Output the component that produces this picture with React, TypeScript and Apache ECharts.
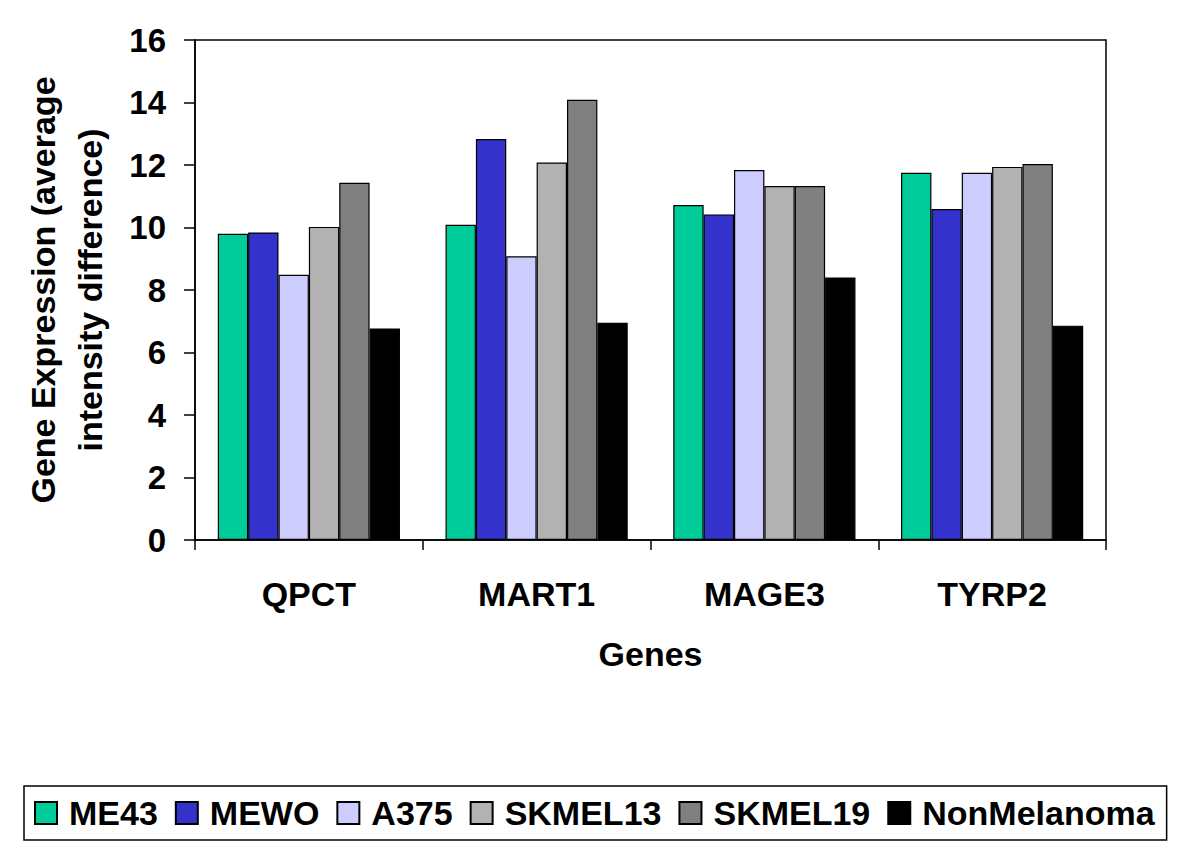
import React, { useEffect, useRef } from "react";
import * as echarts from "echarts";

const genes = ["QPCT", "MART1", "MAGE3", "TYRP2"];
const seriesNames = ["ME43", "MEWO", "A375", "SKMEL13", "SKMEL19", "NonMelanoma"];
const seriesColors = ["#00CC99", "#3333CC", "#CCCCFF", "#B2B2B2", "#808080", "#000000"];

const me43 = [9.8, 10.09, 10.72, 11.75];
const mewo = [9.84, 12.83, 10.42, 10.59];
const a375 = [8.49, 9.08, 11.84, 11.75];
const skmel13 = [10.02, 12.08, 11.33, 11.94];
const skmel19 = [11.43, 14.09, 11.33, 12.03];
const nonMelanoma = [6.77, 6.95, 8.4, 6.86];

const seriesValues = [me43, mewo, a375, skmel13, skmel19, nonMelanoma];

const yTicks = [0, 2, 4, 6, 8, 10, 12, 14, 16];

const FONT = "'Liberation Sans', Arial, Helvetica, sans-serif";

export default function App() {
  const ref = useRef<HTMLDivElement>(null);

  useEffect(() => {
    if (!ref.current) return;
    const chart = echarts.init(ref.current, null, { renderer: "svg" });
    chart.setOption({
      animation: false,
      backgroundColor: "#ffffff",
      textStyle: { fontFamily: FONT },
      grid: {
        left: 195,
        right: 94,
        top: 40,
        bottom: 327,
        show: true,
        borderColor: "#000",
        borderWidth: 1.5,
        backgroundColor: "transparent",
      },
      legend: {
        data: seriesNames,
        left: 24,
        top: 786,
        orient: "horizontal",
        icon: "rect",
        itemWidth: 22,
        itemHeight: 22,
        itemGap: 17,
        padding: [10, 12, 10, 10],
        borderColor: "#000",
        borderWidth: 1.5,
        textStyle: {
          fontFamily: FONT,
          fontSize: 34,
          fontWeight: "bold",
          color: "#000",
          padding: [0, 0, 0, 7],
        },
      },
      xAxis: {
        type: "category",
        data: genes,
        boundaryGap: true,
        name: "Genes",
        nameLocation: "middle",
        nameGap: 97,
        nameTextStyle: {
          fontFamily: FONT,
          fontSize: 34,
          fontWeight: "bold",
          color: "#000",
        },
        axisLine: { show: true, lineStyle: { color: "#000", width: 1.5 } },
        axisTick: {
          show: true,
          inside: false,
          length: 10,
          alignWithLabel: false,
          lineStyle: { color: "#000", width: 1.5 },
        },
        axisLabel: {
          fontFamily: FONT,
          fontSize: 34,
          fontWeight: "bold",
          color: "#000",
          margin: 37,
        },
        splitLine: { show: false },
      },
      yAxis: {
        type: "value",
        min: yTicks[0],
        max: yTicks[yTicks.length - 1],
        interval: 2,
        name: "Gene Expression (average\nintensity difference)",
        nameLocation: "middle",
        nameRotate: 90,
        nameGap: 82,
        nameTextStyle: {
          fontFamily: FONT,
          fontSize: 34,
          fontWeight: "bold",
          color: "#000",
          lineHeight: 47,
          align: "center",
        },
        axisLine: { show: true, lineStyle: { color: "#000", width: 1.5 } },
        axisTick: {
          show: true,
          inside: false,
          length: 11,
          lineStyle: { color: "#000", width: 1.5 },
        },
        axisLabel: {
          fontFamily: FONT,
          fontSize: 33,
          fontWeight: "bold",
          color: "#000",
          margin: 29,
        },
        splitLine: { show: false },
      },
      series: seriesNames.map((name, i) => ({
        name,
        type: "bar",
        data: seriesValues[i],
        barGap: "0%",
        barCategoryGap: "20%",
        itemStyle: {
          color: seriesColors[i],
          borderColor: "#000",
          borderWidth: 1.2,
        },
      })),
    });
    return () => chart.dispose();
  }, []);

  return (
    <div
      ref={ref}
      style={{ position: "fixed", left: 0, top: 0, width: 1200, height: 867, background: "#fff" }}
    />
  );
}
